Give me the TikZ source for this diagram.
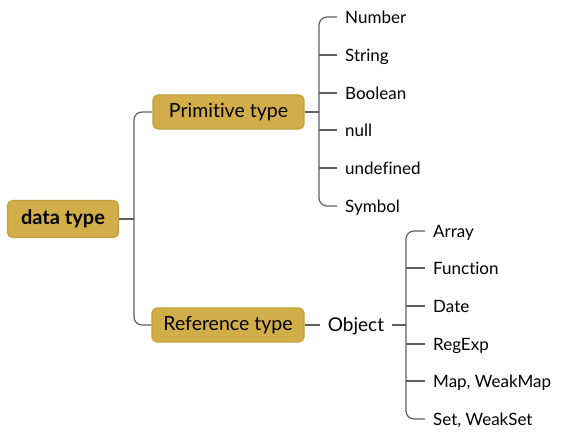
\documentclass[tikz,border=0pt]{standalone}
\usepackage{fontspec}
\setmainfont[RawFeature={-liga;-dlig;-calt;-clig}]{Lato}
\definecolor{gold}{RGB}{210,174,74}
\definecolor{goldline}{RGB}{196,160,56}
\definecolor{conncol}{RGB}{95,95,95}
\begin{document}
\begin{tikzpicture}[x=1pt,y=-1pt,
  box/.style={draw=goldline,fill=gold,line width=1.2pt,rounded corners=5pt,inner sep=0pt,font=\fontsize{19.5}{22}\selectfont},
  leaf/.style={anchor=west,inner xsep=8pt,inner ysep=0pt,text height=12.2pt,text depth=0pt,font=\fontsize{17}{19}\selectfont},
  conn/.style={draw=conncol,line width=1.2pt,rounded corners=8pt},
  stub/.style={draw=conncol,line width=1.2pt}]
\useasboundingbox (0,0) rectangle (579,443);
% main boxes
\node[box,minimum width=111pt,minimum height=37pt,font=\fontsize{20}{22}\selectfont\bfseries] (dt) at (63,219) {data type};
\node[box,minimum width=151pt,minimum height=34pt] (prim) at (228.5,112) {Primitive type};
\node[box,minimum width=152pt,minimum height=34pt] (ref) at (228,325) {Reference type};
\node[inner xsep=8pt,inner ysep=0pt,text height=13.5pt,text depth=0pt,font=\fontsize{19}{21}\selectfont] (obj) at (356,325) {Object};
% junctions
\coordinate (dj) at (134,219);
\coordinate (pj) at (319,112);
\coordinate (oj) at (406,325);
% primitive leaves
\node[leaf] (n1) at (337,17) {Number};
\node[leaf] (n2) at (337,55) {String};
\node[leaf] (n3) at (337,93) {Boolean};
\node[leaf] (n4) at (337,130) {null};
\node[leaf] (n5) at (337,168) {undefined};
\node[leaf] (n6) at (337,206) {Symbol};
% object leaves
\node[leaf] (o1) at (425,231) {Array};
\node[leaf] (o2) at (425,268) {Function};
\node[leaf] (o3) at (425,306) {Date};
\node[leaf] (o4) at (425,344) {RegExp};
\node[leaf] (o5) at (425,381) {Map, WeakMap};
\node[leaf] (o6) at (425,419) {Set, WeakSet};
% connectors
\draw[stub] (dt.east) -- (dj);
\draw[conn] (prim.west) -| (dj) |- (ref.west);
\draw[stub] (prim.east) -- (pj);
\draw[conn] (n1.west) -| (pj) |- (n6.west);
\foreach \n in {n2,n3,n4,n5} \draw[stub] (pj |- \n.west) -- (\n.west);
\draw[stub] (ref.east) -- (obj.west);
\draw[stub] (obj.east) -- (oj);
\draw[conn] (o1.west) -| (oj) |- (o6.west);
\foreach \n in {o2,o3,o4,o5} \draw[stub] (oj |- \n.west) -- (\n.west);
\end{tikzpicture}
\end{document}
